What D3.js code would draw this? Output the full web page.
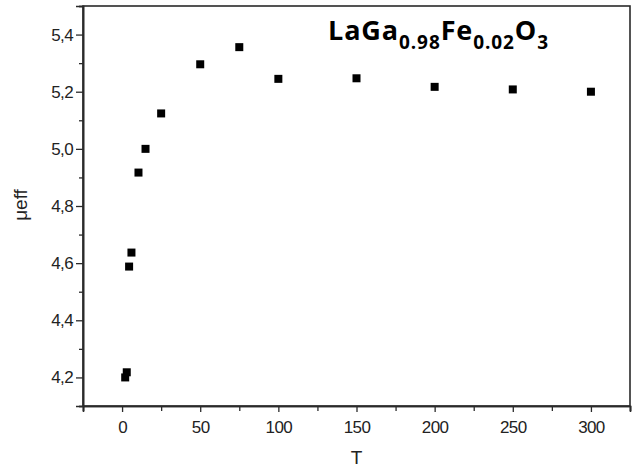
<!DOCTYPE html>
<html><head><meta charset="utf-8">
<script src="https://cdn.jsdelivr.net/npm/d3@7"></script>
<style>body{margin:0;background:#fff}svg{display:block}</style>
</head><body>
<script>
const temps = [2, 3, 4.5, 6, 10.5, 15, 25, 50, 75, 100, 150, 200, 250, 300];
const mueff = [4.20, 4.218, 4.588, 4.637, 4.917, 5.0, 5.124, 5.296, 5.356, 5.245, 5.247, 5.217, 5.208, 5.2];
const xTicks = [0, 50, 100, 150, 200, 250, 300];
const xMinor = [-25, 25, 75, 125, 175, 225, 275, 325];
const yTicks = [4.2, 4.4, 4.6, 4.8, 5.0, 5.2, 5.4];
const yMinor = [4.1, 4.3, 4.5, 4.7, 4.9, 5.1, 5.3, 5.5];

const W = 644, H = 469;
const m = {l: 83, t: 6, r: 14, b: 63};
const svg = d3.select("body").append("svg").attr("width", W).attr("height", H);
const x = d3.scaleLinear().domain([-25, 325]).range([m.l, W - m.r]);
const y = d3.scaleLinear().domain([4.1, 5.5]).range([H - m.b, m.t]);
const fmt = d => d3.format(".1f")(d).replace(".", ",");
const col = "#2a2a2a";
const sans = "'Liberation Sans', Arial, sans-serif";

svg.append("rect").attr("x", m.l).attr("y", m.t).attr("width", W - m.l - m.r).attr("height", H - m.t - m.b)
  .attr("fill", "none").attr("stroke", col).attr("stroke-width", 1.6);

const gx = svg.append("g").attr("transform", `translate(0,${H - m.b})`)
  .call(d3.axisBottom(x).tickValues(xTicks).tickSize(6).tickPadding(9).tickFormat(d3.format("d")));
svg.append("g").attr("transform", `translate(0,${H - m.b})`)
  .call(d3.axisBottom(x).tickValues(xMinor).tickSize(5).tickFormat(""));
const gy = svg.append("g").attr("transform", `translate(${m.l},0)`)
  .call(d3.axisLeft(y).tickValues(yTicks).tickSize(7).tickPadding(3).tickFormat(fmt));
svg.append("g").attr("transform", `translate(${m.l},0)`)
  .call(d3.axisLeft(y).tickValues(yMinor).tickSize(4).tickFormat(""));
svg.selectAll(".domain").attr("stroke", col).attr("stroke-width", 1.6);
svg.selectAll(".tick line").attr("stroke", col).attr("stroke-width", 1.3);
svg.selectAll(".tick text").attr("font-family", sans)
  .attr("font-size", 17).attr("fill", "#222").attr("letter-spacing", -0.6);

svg.append("g").selectAll("rect").data(temps).join("rect")
  .attr("x", (d) => x(d) - 4).attr("y", (d, i) => y(mueff[i]) - 4)
  .attr("width", 8).attr("height", 8).attr("fill", "#000");

svg.append("text").attr("x", x(150)).attr("y", 464).attr("text-anchor", "middle")
  .attr("font-family", sans).attr("font-size", 19).attr("fill", "#222").text("T");
svg.append("text").attr("transform", `translate(27,205) rotate(-90)`).attr("text-anchor", "middle")
  .attr("font-family", sans).attr("font-size", 19).attr("fill", "#222").text("μeff");

const t = svg.append("text").attr("x", 328).attr("y", 40)
  .attr("font-family", "'Open Sans', sans-serif").attr("font-weight", "bold").attr("font-size", 27).attr("fill", "#000")
  .attr("letter-spacing", 0.9);
t.append("tspan").text("LaGa");
t.append("tspan").attr("font-size", 19).attr("dy", 9).text("0.98");
t.append("tspan").attr("dy", -9).text("Fe");
t.append("tspan").attr("font-size", 19).attr("dy", 9).text("0.02");
t.append("tspan").attr("dy", -9).text("O");
t.append("tspan").attr("font-size", 19).attr("dy", 9).text("3");
</script>
</body></html>
